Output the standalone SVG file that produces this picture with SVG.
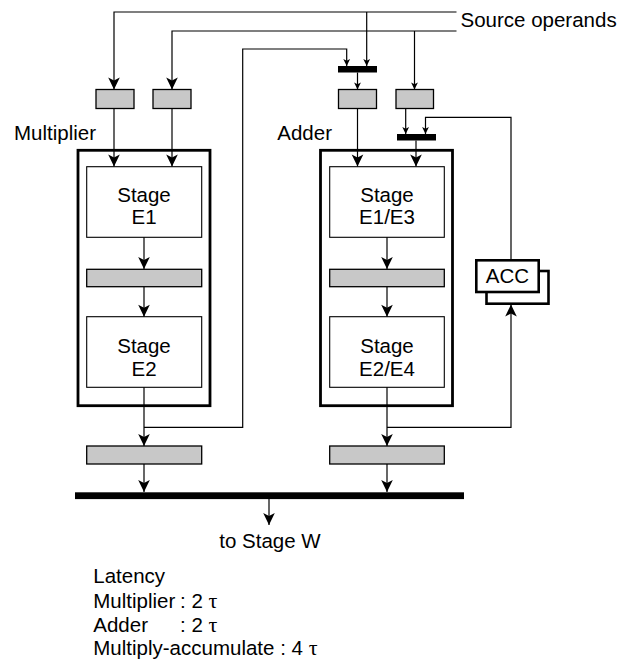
<svg xmlns="http://www.w3.org/2000/svg" width="637" height="660" viewBox="0 0 637 660">
<defs>
<style>
text{font-family:"Liberation Sans",Arial,sans-serif;font-size:20.5px;fill:#000}
.ctr{text-anchor:middle}
.reg{fill:#c8c8c8;stroke:#000;stroke-width:1.3}
.bar{fill:#000}
.outer{fill:#fff;stroke:#000;stroke-width:2.8}
.inner{fill:#fff;stroke:#000;stroke-width:1.1}
.acc{fill:#fff;stroke:#000;stroke-width:2.6}
.w{fill:none;stroke:#000;stroke-width:1.2}
.big{marker-end:url(#ab)}
.sm{marker-end:url(#as)}
.tau{font-family:"Liberation Serif","Times New Roman",serif;font-size:22px}
</style>
<marker id="ab" markerUnits="userSpaceOnUse" markerWidth="16" markerHeight="16" viewBox="-14 -8 16 16" refX="0" refY="0" orient="auto">
<path d="M0,0 L-12,-5.8 L-9,0 L-12,5.8 Z" fill="#000"/>
</marker>
<marker id="as" markerUnits="userSpaceOnUse" markerWidth="10" markerHeight="10" viewBox="-8 -5 10 10" refX="0" refY="0" orient="auto">
<path d="M0,0 L-7,-3.4 L-5.2,0 L-7,3.4 Z" fill="#000"/>
</marker>
</defs>

<g id="source-operands"><text x="460.5" y="27">Source operands</text></g>

<g id="mul-reg-a"><rect class="reg" x="96" y="89.5" width="38" height="19"/></g>
<g id="mul-reg-b"><rect class="reg" x="153" y="89.5" width="38" height="19"/></g>
<g id="add-mux-a"><rect class="bar" x="338" y="66" width="39" height="6.5"/></g>
<g id="add-reg-a"><rect class="reg" x="338.5" y="89.5" width="38" height="19"/></g>
<g id="add-reg-b"><rect class="reg" x="396" y="89.5" width="37.5" height="19"/></g>
<g id="add-mux-b"><rect class="bar" x="397" y="134" width="39" height="6.5"/></g>

<g id="multiplier">
<text x="14" y="140">Multiplier</text>
<rect class="outer" x="78" y="150.3" width="132" height="255.4"/>
</g>
<g id="mul-e1">
<rect class="inner" x="86.7" y="166.7" width="115" height="70.6"/>
<text class="ctr" x="144" y="201.7">Stage</text>
<text class="ctr" x="144" y="224">E1</text>
</g>
<g id="mul-reg-mid"><rect class="reg" x="86.7" y="269.3" width="115" height="17.4"/></g>
<g id="mul-e2">
<rect class="inner" x="86.7" y="316.7" width="115" height="70.6"/>
<text class="ctr" x="144" y="353.3">Stage</text>
<text class="ctr" x="144" y="376">E2</text>
</g>

<g id="adder">
<text x="277.3" y="140">Adder</text>
<rect class="outer" x="320.5" y="150.3" width="132" height="255.4"/>
</g>
<g id="add-e1e3">
<rect class="inner" x="329.7" y="166.7" width="114.6" height="70.6"/>
<text class="ctr" x="387" y="201.7">Stage</text>
<text class="ctr" x="387" y="224">E1/E3</text>
</g>
<g id="add-reg-mid"><rect class="reg" x="329.7" y="269.3" width="114.6" height="17.4"/></g>
<g id="add-e2e4">
<rect class="inner" x="329.7" y="316.7" width="114.6" height="70.6"/>
<text class="ctr" x="387" y="353.3">Stage</text>
<text class="ctr" x="387" y="376">E2/E4</text>
</g>

<g id="acc">
<rect class="acc" x="486.5" y="271" width="62" height="32.7"/>
<rect class="acc" x="476.3" y="260.3" width="62.4" height="31.7"/>
<text class="ctr" x="507.5" y="283">ACC</text>
</g>

<g id="mul-reg-out"><rect class="reg" x="86.7" y="446" width="115" height="18"/></g>
<g id="add-reg-out"><rect class="reg" x="329.7" y="446" width="114.6" height="18"/></g>
<g id="bus"><rect class="bar" x="75" y="492.3" width="389" height="6.8"/></g>

<g id="stage-w"><text class="ctr" x="270" y="548.3">to Stage W</text></g>

<g id="latency">
<text x="93.3" y="582.5">Latency</text>
<text x="93.3" y="607.5">Multiplier<tspan x="180">: 2 </tspan><tspan class="tau">τ</tspan></text>
<text x="93.3" y="631.5">Adder<tspan x="180">: 2 </tspan><tspan class="tau">τ</tspan></text>
<text x="93.3" y="655">Multiply-accumulate : 4 <tspan class="tau">τ</tspan></text>
</g>

<g id="connectors">
<path class="w big" d="M456.5,12 H114 V89.5"/>
<path class="w big" d="M456.5,31 H172 V89.5"/>
<path class="w sm" d="M366.7,12 V66"/>
<path class="w sm" d="M414.5,31 V89.5"/>
<path class="w sm" d="M357.5,72.5 V89.5"/>
<path class="w big" d="M114,108.5 V166.5"/>
<path class="w big" d="M172,108.5 V166.5"/>
<path class="w big" d="M357.5,108.5 V166.5"/>
<path class="w big" d="M416,140.5 V166.5"/>
<path class="w sm" d="M405.7,108.5 V134"/>
<path class="w sm" d="M511,260 V117.3 H425.5 V134"/>
<path class="w big" d="M144,237.3 V269"/>
<path class="w big" d="M144,287 V316.7"/>
<path class="w big" d="M387,237.3 V269"/>
<path class="w big" d="M387,287 V316.7"/>
<path class="w big" d="M144,387.3 V446"/>
<path class="w sm" d="M144,427.3 H242.7 V49 H346.7 V66"/>
<path class="w big" d="M387,387.3 V446"/>
<path class="w big" d="M387,427.3 H511 V304.5"/>
<path class="w big" d="M144,464 V492"/>
<path class="w big" d="M387,464 V492"/>
<path class="w big" d="M269,499 V525"/>
</g>
</svg>
